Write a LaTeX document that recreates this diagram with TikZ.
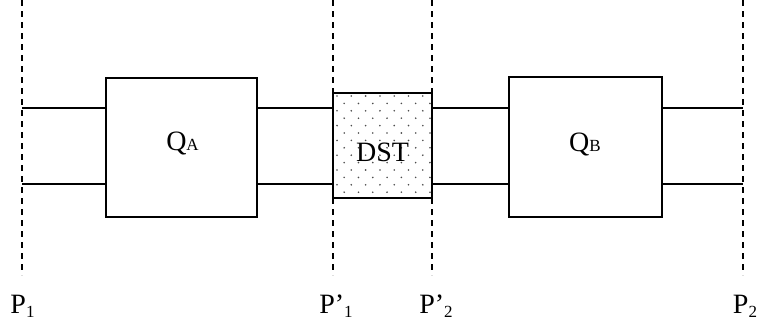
\documentclass[tikz,border=0pt]{standalone}
\usepackage{fontspec}
\setmainfont{Liberation Serif}
\begin{document}
\begin{tikzpicture}[x=1pt,y=-1pt,
  box/.style={draw, line width=1.6pt, rectangle, inner sep=0pt},
  wire/.style={line width=1.5pt},
  plane/.style={line width=1.4pt, dash pattern=on 6pt off 5pt},
  lbl/.style={inner sep=0pt, anchor=base, font=\fontsize{28}{30}\selectfont},
]
\useasboundingbox (0,0) rectangle (762,327);
\newcommand{\smallsub}[1]{{\fontsize{17}{17}\selectfont #1}}
\newcommand{\lowsub}[1]{\raisebox{-4pt}{\fontsize{17}{17}\selectfont #1}}
% reference planes
\coordinate (p1a) at (22,0);   \coordinate (p1b) at (22,275);
\coordinate (q1a) at (333,0);  \coordinate (q1b) at (333,275);
\coordinate (q2a) at (432,0);  \coordinate (q2b) at (432,275);
\coordinate (p2a) at (743,0);  \coordinate (p2b) at (743,275);
\draw[plane] (p1a) -- (p1b);
\draw[plane] (q1a) -- (q1b);
\draw[plane] (q2a) -- (q2b);
\draw[plane] (p2a) -- (p2b);
% wire levels
\coordinate (u) at (0,108);
\coordinate (l) at (0,184);
% boxes
\node[box, minimum width=151pt, minimum height=139pt] (qa) at (181.5,147.5) {};
\node[box, minimum width=153pt, minimum height=140pt] (qb) at (585.5,147) {};
\node[box, fill=white, minimum width=99pt, minimum height=105pt] (dst) at (382.5,145.5) {};
\begin{scope}
  \clip (dst.south west) rectangle (dst.north east);
  \foreach \j in {0,...,14} {
    \pgfmathsetmacro{\off}{mod(\j,2)*7.15}
    \foreach \i in {0,...,7} {
      \fill[black!70] (337+\off+14.3*\i, 96+7.4*\j) circle (0.9pt);
    }
  }
\end{scope}
\node[box, minimum width=99pt, minimum height=105pt] at (dst.center) {};
% wires
\draw[wire] (p1a |- u) -- (qa.west |- u);
\draw[wire] (p1a |- l) -- (qa.west |- l);
\draw[wire] (qa.east |- u) -- (dst.west |- u);
\draw[wire] (qa.east |- l) -- (dst.west |- l);
\draw[wire] (dst.east |- u) -- (qb.west |- u);
\draw[wire] (dst.east |- l) -- (qb.west |- l);
\draw[wire] (qb.east |- u) -- (p2a |- u);
\draw[wire] (qb.east |- l) -- (p2a |- l);
% box texts
\node[lbl] (qat) at (182.5,150) {Q\smallsub{A}};
\node[lbl] (qbt) at (585,151) {Q\smallsub{B}};
\node[lbl] (dstt) at (382.5,161) {DST};
% plane labels
\node[lbl] (p1l) at (22.5,313) {P\lowsub{1}};
\node[lbl] (q1l) at (336,313) {P’\lowsub{1}};
\node[lbl] (q2l) at (436,313) {P’\lowsub{2}};
\node[lbl] (p2l) at (745,313) {P\lowsub{2}};
\end{tikzpicture}
\end{document}
